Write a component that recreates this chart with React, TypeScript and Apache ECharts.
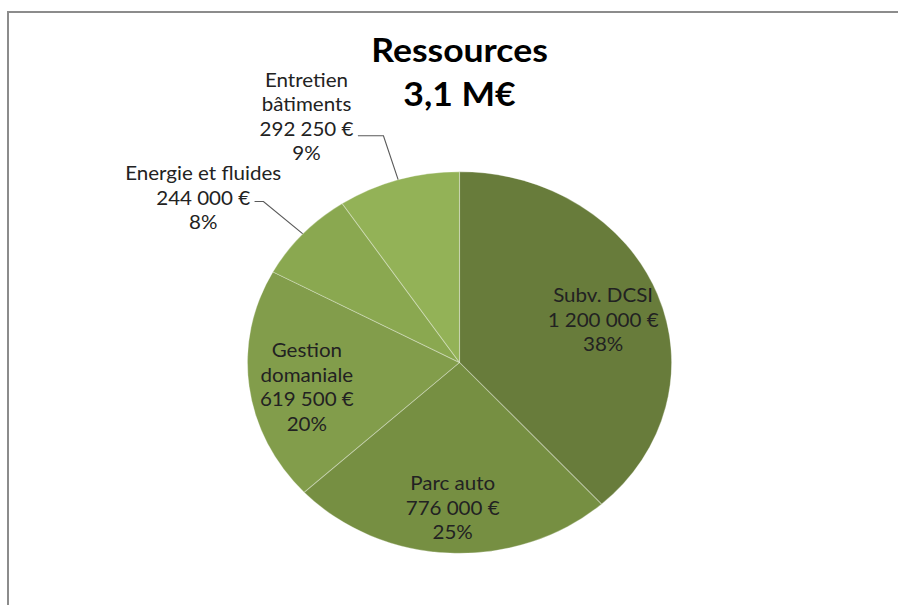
import React, { useEffect, useRef } from "react";
import * as echarts from "echarts";

const categories = ["Subv. DCSI", "Parc auto", "Gestion domaniale", "Energie et fluides", "Entretien bâtiments"];
const labelNames = ["Subv. DCSI", "Parc auto", "Gestion\ndomaniale", "Energie et fluides", "Entretien\nbâtiments"];
const values = [1200000, 776000, 619500, 244000, 292250];
const colors = ["#687c3b", "#768f42", "#829d4b", "#8aa850", "#93b257"];
const outsideLabel = [false, false, false, true, true];
const titleLines = ["Ressources", "3,1 M€"];

const W = 808;
const H = 605;
const SX = 898 / W;
const CX = 459.5 / SX;
const CY = 362.5;
const R = 190.8;

const total = values.reduce((a, b) => a + b, 0);
const fmt = (v: number) => String(v).replace(/\B(?=(\d{3})+(?!\d))/g, "\u202F") + " €";
const labelText = (i: number) => {
  const lines = [...labelNames[i].split("\n"), fmt(values[i]), Math.round((values[i] / total) * 100) + "%"];
  return lines.map((l) => `{c|${l}}`).join("\n");
};

const FONT = "Lato, 'Open Sans', sans-serif";
const rich = { c: { align: "center", fontFamily: FONT, fontSize: 18.5, color: "#222", lineHeight: 24.5 } };

const outsideCfg: Record<number, any> = {
  3: { length: 48, length2: 8, dist: -24, pad: [0, 0, 8, 0] },
  4: { length: 46, length2: 23, dist: 4, pad: [0, 0, 39, 0] },
};

export default function App() {
  const ref = useRef<HTMLDivElement>(null);
  useEffect(() => {
    if (!ref.current) return;
    const chart = echarts.init(ref.current, null, { renderer: "svg" });
    chart.setOption({
      animation: false,
      backgroundColor: "#fff",
      graphic: [
        {
          type: "text",
          x: CX,
          y: 50,
          style: { text: titleLines[0], align: "center", verticalAlign: "middle", font: `bold 32px ${FONT}`, fill: "#000" },
        },
        {
          type: "text",
          x: CX,
          y: 94,
          style: { text: titleLines[1], align: "center", verticalAlign: "middle", font: `bold 32px ${FONT}`, fill: "#000" },
        },
      ],
      series: [
        {
          type: "pie",
          center: [CX, CY],
          radius: R,
          startAngle: 90,
          clockwise: true,
          avoidLabelOverlap: false,
          emphasis: { disabled: true },
          itemStyle: { borderColor: "rgba(255,255,255,0.3)", borderWidth: 1 },
          labelLine: { lineStyle: { color: "#5a5a5a", width: 1 } },
          data: values.map((v, i) => {
            const o = outsideCfg[i];
            return {
              name: categories[i],
              value: v,
              itemStyle: { color: colors[i] },
              label: outsideLabel[i]
                ? {
                    show: true,
                    position: "outside",
                    formatter: () => labelText(i),
                    rich,
                    padding: o.pad,
                    distanceToLabelLine: o.dist,
                  }
                : { show: false },
              labelLine: outsideLabel[i]
                ? { show: true, length: o.length, length2: o.length2, lineStyle: { color: "#5a5a5a", width: 1 } }
                : { show: false },
            };
          }),
        },
        {
          type: "pie",
          center: [CX, CY],
          radius: [0.42 * R, R],
          startAngle: 90,
          clockwise: true,
          silent: true,
          avoidLabelOverlap: false,
          emphasis: { disabled: true },
          itemStyle: { color: "rgba(0,0,0,0)" },
          labelLine: { show: false },
          data: values.map((v, i) => ({
            name: categories[i],
            value: v,
            label: !outsideLabel[i]
              ? { show: true, position: "inside", formatter: () => labelText(i), rich, padding: [14, 0, 0, 0] }
              : { show: false },
          })),
        },
      ],
    });
    return () => chart.dispose();
  }, []);
  return (
    <div style={{ position: "fixed", left: 0, top: 0, width: 898, height: 605, overflow: "hidden", background: "#fff" }}>
      <div
        ref={ref}
        style={{ position: "absolute", left: 0, top: 0, width: W, height: H, transform: `scaleX(${SX})`, transformOrigin: "0 0" }}
      />
      <div
        style={{
          position: "absolute",
          left: 7,
          top: 11,
          width: 2000,
          height: 2000,
          borderLeft: "2px solid #8c8c8c",
          borderTop: "2px solid #8c8c8c",
          pointerEvents: "none",
        }}
      />
    </div>
  );
}
